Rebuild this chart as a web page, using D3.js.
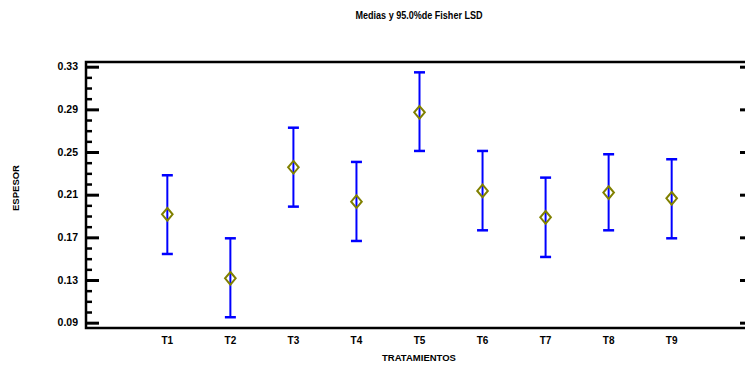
<!DOCTYPE html>
<html>
<head>
<meta charset="utf-8">
<script src="https://cdn.jsdelivr.net/npm/d3@7"></script>
<style>
  html, body { margin: 0; padding: 0; background: #fff; }
  svg { display: block; }
  text { font-family: "Liberation Sans", Arial, sans-serif; font-weight: bold; fill: #000; }
</style>
</head>
<body>
<svg id="chart" width="745" height="366"></svg>
<script>
// Treatment means with their 95% Fisher LSD intervals
const categories = ["T1", "T2", "T3", "T4", "T5", "T6", "T7", "T8", "T9"];
const means = [0.1916, 0.1316, 0.2357, 0.2034, 0.2872, 0.2135, 0.1888, 0.2120, 0.2066];
const lower = [0.1544, 0.0951, 0.1988, 0.1666, 0.2510, 0.1766, 0.1516, 0.1766, 0.1691];
const upper = [0.2282, 0.1691, 0.2728, 0.2407, 0.3247, 0.2510, 0.2260, 0.2479, 0.2432];
const majorTicks = [0.09, 0.13, 0.17, 0.21, 0.25, 0.29, 0.33];
const minorTicks = [0.10, 0.11, 0.12, 0.14, 0.15, 0.16, 0.18, 0.19, 0.20, 0.22, 0.23, 0.24,
                    0.26, 0.27, 0.28, 0.30, 0.31, 0.32];

const title = "Medias y 95.0%de Fisher LSD";
const xTitle = "TRATAMIENTOS";
const yTitle = "ESPESOR";

const svg = d3.select("#chart");
const plotLeft = 86, plotRight = 753, plotTop = 62, plotBottom = 328;

const x = d3.scalePoint().domain(categories).range([plotLeft, plotRight]).padding(1.29);
const y = d3.scaleLinear().domain([0.085, 0.3344]).range([plotBottom, plotTop]);

const rows = categories.map((c, i) => ({ c, m: means[i], lo: lower[i], hi: upper[i] }));

// Draws a set of inward ticks on one side of the frame
function ticks(axisFn, xPos, values, size, width) {
  svg.append("g").attr("transform", `translate(${xPos},0)`)
    .call(axisFn(y).tickValues(values).tickSize(size).tickFormat(""))
    .call(g => g.select(".domain").remove())
    .selectAll("line").attr("stroke", "#000").attr("stroke-width", width);
}
ticks(d3.axisRight, plotLeft, minorTicks, 6, 2.5);
ticks(d3.axisRight, plotLeft, majorTicks, 13, 3);
ticks(d3.axisLeft, plotRight, minorTicks, 6, 2.5);
ticks(d3.axisLeft, plotRight, majorTicks, 13, 3);

// Tick labels
svg.append("g").selectAll("text").data(majorTicks).join("text")
  .attr("x", 78).attr("y", d => y(d)).attr("dy", "0.35em")
  .attr("text-anchor", "end").style("font-size", "10.5px")
  .text(d3.format(".2f"));

// Frame
svg.append("rect")
  .attr("x", plotLeft).attr("y", plotTop)
  .attr("width", plotRight - plotLeft).attr("height", plotBottom - plotTop)
  .attr("fill", "none").attr("stroke", "#000").attr("stroke-width", 2.5);

// Category labels
svg.append("g").selectAll("text").data(categories).join("text")
  .attr("x", d => x(d)).attr("y", 344)
  .attr("text-anchor", "middle").style("font-size", "10px")
  .text(d => d);

// Interval bars
const bars = svg.append("g").selectAll("g").data(rows).join("g");
bars.append("line")
  .attr("x1", d => x(d.c)).attr("x2", d => x(d.c))
  .attr("y1", d => y(d.lo)).attr("y2", d => y(d.hi))
  .attr("stroke", "#0000ff").attr("stroke-width", 2);
bars.selectAll("line.cap").data(d => [{ c: d.c, v: d.lo }, { c: d.c, v: d.hi }]).join("line")
  .attr("class", "cap")
  .attr("x1", d => x(d.c) - 5.5).attr("x2", d => x(d.c) + 5.5)
  .attr("y1", d => y(d.v)).attr("y2", d => y(d.v))
  .attr("stroke", "#0000ff").attr("stroke-width", 2.5);

// Mean markers
svg.append("g").selectAll("path").data(rows).join("path")
  .attr("d", d => {
    const cx = x(d.c), cy = y(d.m);
    return `M${cx},${cy - 6.3}L${cx + 5.3},${cy}L${cx},${cy + 6.3}L${cx - 5.3},${cy}Z`;
  })
  .attr("fill", "none").attr("stroke", "#808000").attr("stroke-width", 2);

// Titles
svg.append("text").attr("x", 419).attr("y", 19)
  .attr("text-anchor", "middle").style("font-size", "11px")
  .attr("textLength", 127).attr("lengthAdjust", "spacingAndGlyphs")
  .text(title);
svg.append("text").attr("x", 419).attr("y", 361)
  .attr("text-anchor", "middle").style("font-size", "9.5px")
  .text(xTitle);
svg.append("text")
  .attr("transform", "translate(19,188) rotate(-90)")
  .attr("text-anchor", "middle").style("font-size", "9.5px")
  .text(yTitle);
</script>
</body>
</html>
